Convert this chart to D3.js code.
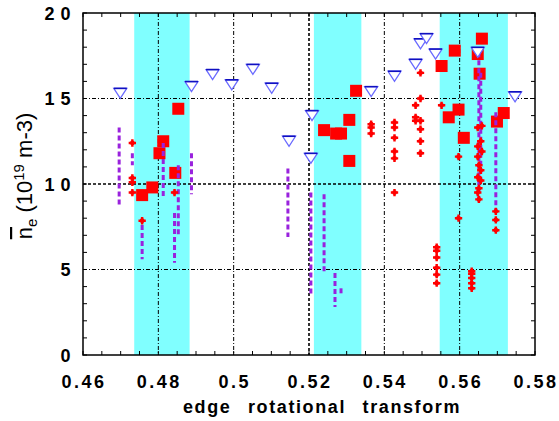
<!DOCTYPE html>
<html>
<head>
<meta charset="utf-8">
<script src="https://cdn.jsdelivr.net/npm/d3@7"></script>
<style>
  body { margin: 0; background: #fff; }
  text { font-family: "Liberation Sans", Arial, sans-serif; }
</style>
</head>
<body>
<script>
//chart size
var width = 559;
var height = 421;
var plot_left = 83, plot_right = 535, plot_top = 13, plot_bottom = 355;

//data
//shaded bands [x0, x1]
var bands = [[0.4736, 0.4883], [0.5213, 0.5339], [0.5547, 0.5728]];

//open triangles
var triX = [0.4699, 0.4888, 0.4944, 0.4995, 0.5051, 0.5101, 0.5147, 0.5208, 0.5205, 0.5365, 0.5427, 0.5483, 0.5496, 0.5512, 0.5536, 0.5648, 0.5747];
var triY = [15.3, 15.7, 16.4, 15.8, 16.7, 15.6, 12.5, 14.0, 11.5, 15.4, 16.3, 17.0, 18.2, 18.5, 17.6, 17.7, 15.1];

//filled squares
var sqX = [0.4853, 0.4813, 0.4803, 0.4845, 0.4784, 0.4757, 0.5325, 0.5307, 0.5240, 0.5272, 0.5285, 0.5307, 0.5659, 0.5587, 0.5552, 0.5648, 0.5653, 0.5597, 0.5571, 0.5611, 0.5699, 0.5717];
var sqY = [14.4, 12.5, 11.8, 10.65, 9.8, 9.35, 15.45, 13.75, 13.15, 12.95, 12.95, 11.35, 18.5, 17.8, 16.9, 17.6, 16.45, 14.35, 13.9, 12.7, 13.65, 14.15];

//small diamonds
var dmX = [0.4731, 0.4731, 0.4731, 0.4731, 0.4843, 0.4757,
  0.5365, 0.5365, 0.5365,
  0.5427, 0.5427, 0.5427, 0.5427, 0.5427, 0.5427,
  0.5496, 0.5496, 0.5483, 0.5483, 0.5483, 0.5496, 0.5496, 0.5496, 0.5496,
  0.5552, 0.5597, 0.5597,
  0.5648, 0.5659, 0.5656, 0.5648, 0.5659, 0.5648, 0.5651, 0.5656, 0.5648, 0.5656, 0.5651, 0.5648, 0.5651,
  0.5696, 0.5696, 0.5696,
  0.5539, 0.5539, 0.5539, 0.5539, 0.5539, 0.5539,
  0.5632, 0.5632, 0.5632, 0.5632, 0.5632];
var dmY = [12.4, 10.35, 10.1, 9.5, 9.5, 7.85,
  13.5, 13.3, 12.95,
  13.6, 13.3, 12.7, 11.9, 11.5, 9.5,
  16.5, 15.0, 14.6, 13.9, 13.7, 13.7, 13.2, 12.5, 11.8,
  14.6, 11.6, 8.0,
  13.3, 13.4, 12.5, 12.2, 11.9, 11.6, 11.1, 10.8, 10.4, 10.2, 9.75, 9.5, 9.1,
  8.4, 7.9, 7.3,
  6.3, 6.1, 5.7, 5.1, 4.7, 4.2,
  4.9, 4.75, 4.5, 4.2, 3.9];

//vertical dashed ranges
var rgX = [0.4696, 0.4731, 0.4813, 0.4853, 0.4888, 0.4757, 0.4843, 0.5144, 0.5205, 0.5240, 0.5269, 0.5285, 0.5651, 0.5656, 0.5696];
var rgLo = [8.8, 11.1, 9.2, 7.0, 9.4, 5.6, 5.4, 6.9, 3.6, 4.9, 2.8, 3.6, 9.1, 10.0, 8.4];
var rgHi = [13.3, 11.8, 12.4, 11.1, 11.8, 7.6, 8.3, 10.9, 9.5, 9.4, 4.8, 3.9, 17.7, 16.5, 14.2];

//tick labels
var xTicks = [0.46, 0.48, 0.5, 0.52, 0.54, 0.56, 0.58];
var xTickLabels = ["0.46", "0.48", "0.5", "0.52", "0.54", "0.56", "0.58"];
var yTicks = [0, 5, 10, 15, 20];
var yTickLabels = ["0", "5", "1 0", "1 5", "2 0"];

var svg = d3.select("body").append("svg")
    .attr("width", width)
    .attr("height", height);

var x = d3.scaleLinear().domain([0.46, 0.58]).range([plot_left, plot_right]);
var y = d3.scaleLinear().domain([0, 20]).range([plot_bottom, plot_top]);

//cyan bands
svg.selectAll("rect.band")
    .data(bands)
    .enter()
    .append("rect")
    .attr("class", "band")
    .attr("x", function (d) { return x(d[0]) })
    .attr("y", plot_top)
    .attr("width", function (d) { return x(d[1]) - x(d[0]) })
    .attr("height", plot_bottom - plot_top)
    .attr("fill", "#80ffff");

//grid lines
var grid = svg.append("g");
[0.48, 0.5, 0.52, 0.54, 0.56].forEach(function (v) {
    var heavy = (v == 0.52);
    grid.append("line")
        .attr("x1", x(v)).attr("x2", x(v))
        .attr("y1", plot_top).attr("y2", plot_bottom)
        .attr("stroke", "#000")
        .attr("stroke-width", heavy ? 1.6 : 1)
        .attr("stroke-dasharray", heavy ? "3,2" : "4,2,1,2");
});
[5, 10, 15].forEach(function (v) {
    var heavy = (v == 10);
    grid.append("line")
        .attr("x1", plot_left).attr("x2", plot_right)
        .attr("y1", y(v)).attr("y2", y(v))
        .attr("stroke", "#000")
        .attr("stroke-width", heavy ? 1.6 : 1)
        .attr("stroke-dasharray", heavy ? "3,2" : "4,2,1,2");
});

//red squares
svg.selectAll("rect.sq")
    .data(sqX)
    .enter()
    .append("rect")
    .attr("class", "sq")
    .attr("x", function (d) { return x(d) - 6 })
    .attr("y", function (d, i) { return y(sqY[i]) - 6 })
    .attr("width", 12)
    .attr("height", 12)
    .attr("fill", "#ff0000");

//purple dashed ranges
svg.selectAll("line.rg")
    .data(rgX)
    .enter()
    .append("line")
    .attr("class", "rg")
    .attr("x1", function (d) { return x(d) })
    .attr("x2", function (d) { return x(d) })
    .attr("y1", function (d, i) { return y(rgHi[i]) })
    .attr("y2", function (d, i) { return y(rgLo[i]) })
    .attr("stroke", "#9922dd")
    .attr("stroke-width", 3)
    .attr("stroke-dasharray", "5,3");

//red diamonds (small rounded crosses)
var dm = svg.selectAll("g.dm")
    .data(dmX)
    .enter()
    .append("g")
    .attr("class", "dm")
    .attr("transform", function (d, i) { return "translate(" + x(d) + "," + y(dmY[i]) + ")" })
    .attr("fill", "#ff0000");
dm.append("path").attr("d", d3.symbol().type(d3.symbolCross).size(30));
dm.append("circle").attr("r", 2.4);

//open triangles
var tri = svg.selectAll("g.tri")
    .data(triX)
    .enter()
    .append("g")
    .attr("class", "tri")
    .attr("transform", function (d, i) { return "translate(" + x(d) + "," + y(triY[i]) + ")" });
tri.append("path")
    .attr("d", "M-6.5,-5L6.5,-5L0,5Z")
    .attr("fill", "#fff")
    .attr("stroke", "#6a6aff")
    .attr("stroke-width", 1.3);
tri.append("line")
    .attr("x1", -6.5).attr("x2", 6.5)
    .attr("y1", -5).attr("y2", -5)
    .attr("stroke", "#1010c0")
    .attr("stroke-width", 1.6);

//frame and ticks
var axes = svg.append("g").attr("stroke", "#000");
d3.range(0.46, 0.5801, 0.005).forEach(function (v) {
    axes.append("line").attr("x1", x(v)).attr("x2", x(v)).attr("y1", plot_bottom).attr("y2", plot_bottom - 4).attr("stroke-width", 1);
    axes.append("line").attr("x1", x(v)).attr("x2", x(v)).attr("y1", plot_top).attr("y2", plot_top + 4).attr("stroke-width", 1);
});
d3.range(0, 21, 1).forEach(function (v) {
    axes.append("line").attr("x1", plot_left).attr("x2", plot_left + 4).attr("y1", y(v)).attr("y2", y(v)).attr("stroke-width", 1);
    axes.append("line").attr("x1", plot_right).attr("x2", plot_right - 4).attr("y1", y(v)).attr("y2", y(v)).attr("stroke-width", 1);
});
svg.append("rect")
    .attr("x", plot_left).attr("y", plot_top)
    .attr("width", plot_right - plot_left).attr("height", plot_bottom - plot_top)
    .attr("fill", "none")
    .attr("stroke", "#000")
    .attr("stroke-width", 1.5);

//tick labels
svg.selectAll("text.xt")
    .data(xTicks)
    .enter()
    .append("text")
    .attr("class", "xt")
    .attr("x", function (d) { return x(d) + 1 })
    .attr("y", 388)
    .attr("text-anchor", "middle")
    .attr("font-size", 18)
    .attr("font-weight", "bold")
    .attr("letter-spacing", 2.5)
    .text(function (d, i) { return xTickLabels[i] });

svg.selectAll("text.yt")
    .data(yTicks)
    .enter()
    .append("text")
    .attr("class", "yt")
    .attr("x", 71)
    .attr("y", function (d) { return y(d) + 6.5 })
    .attr("text-anchor", "end")
    .attr("font-size", 18)
    .attr("font-weight", "bold")
    .attr("letter-spacing", 0.5)
    .text(function (d, i) { return yTickLabels[i] });

//axis titles
svg.append("text")
    .attr("x", 322)
    .attr("y", 413)
    .attr("text-anchor", "middle")
    .attr("font-size", 18)
    .attr("font-weight", "bold")
    .attr("letter-spacing", 1.6)
    .attr("word-spacing", 10)
    .text("edge rotational transform");

var yt = svg.append("text")
    .attr("transform", "translate(32,176) rotate(-90)")
    .attr("text-anchor", "middle")
    .attr("font-size", 22);
yt.append("tspan").attr("text-decoration", "overline").text("n");
yt.append("tspan").attr("font-size", 15).attr("dy", 5).text("e");
yt.append("tspan").attr("dy", -5).text(" (10");
yt.append("tspan").attr("font-size", 15).attr("dy", -8).text("19");
yt.append("tspan").attr("dy", 8).text(" m-3)");
</script>
</body>
</html>
